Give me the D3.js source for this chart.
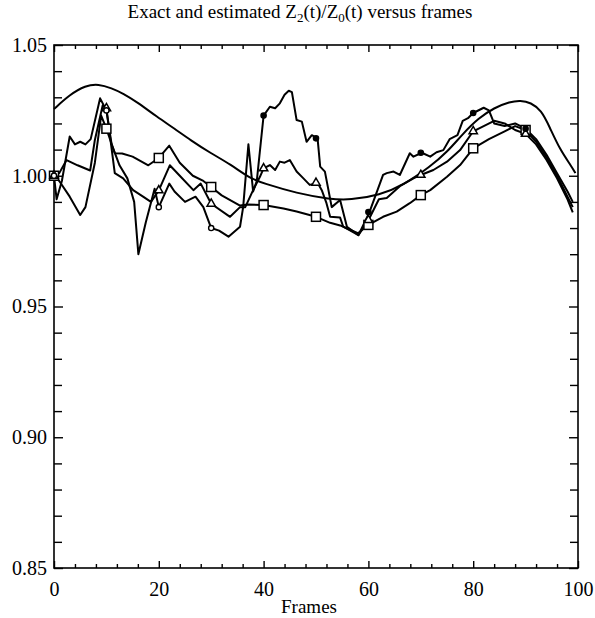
<!DOCTYPE html>
<html>
<head>
<meta charset="utf-8">
<script src="https://cdn.jsdelivr.net/npm/d3@7"></script>
<style>
  body { margin: 0; background: #fff; }
  text { font-family: "Liberation Serif", "DejaVu Serif", serif; fill: #000; }
</style>
</head>
<body>
<div id="chart"></div>
<script>
// exact curve
var exactFrames = [0, 3, 6, 8.5, 11, 13.2, 16, 19.6, 23, 26, 30, 33.6, 37.4, 40, 46.3, 52.7, 56.5, 62.2, 66.7, 71.8, 75, 78, 81, 84, 87, 89, 91, 93, 94.5, 96.6, 98.8, 99.5];
var exactValues = [1.0255, 1.031, 1.0345, 1.0351, 1.0335, 1.0315, 1.028, 1.0226, 1.018, 1.0137, 1.0085, 1.0045, 0.999, 0.9971, 0.9933, 0.991, 0.9907, 0.9926, 0.9965, 1.0035, 1.009, 1.016, 1.022, 1.026, 1.0283, 1.0288, 1.028, 1.025, 1.019, 1.0098, 1.0035, 1.001];

// estimate with circles
var circFrames = [0, 0.5, 1.5, 3, 4, 5, 6, 7, 8.8, 10, 11, 12.5, 14, 15.3, 16.1, 17.5, 19.2, 20, 22, 23, 25, 27, 28.5, 30, 31.5, 33.3, 35.5, 36.1, 37.1, 38, 38.7, 40, 41.2, 42.2, 43.1, 44, 44.8, 45.4, 46.3, 47.3, 48.2, 49.2, 50.3, 50.8, 51.7, 53, 54.6, 55.9, 58.1, 60.2, 62.8, 63.5, 64.8, 66, 67.9, 68.6, 70.2, 71.8, 73, 74.3, 75.5, 77, 78, 79, 80, 82, 83, 84, 86, 88, 90, 92, 94, 96, 98, 99];
var circValues = [1.000, 0.991, 0.998, 1.015, 1.012, 1.013, 1.012, 1.014, 1.0296, 1.025, 1.012, 1.004, 0.999, 0.990, 0.970, 0.982, 0.995, 0.988, 0.997, 0.994, 0.990, 0.992, 0.988, 0.980, 0.979, 0.9767, 0.9805, 0.988, 1.012, 0.994, 0.998, 1.023, 1.0264, 1.0258, 1.0277, 1.031, 1.0325, 1.032, 1.0213, 1.0207, 1.013, 1.0155, 1.0143, 1.0035, 1.0016, 0.988, 0.9907, 0.9805, 0.9773, 0.9861, 1.0003, 1.001, 1.0016, 1.0003, 1.0086, 1.0073, 1.0088, 1.0073, 1.009, 1.0098, 1.014, 1.0155, 1.021, 1.022, 1.024, 1.026, 1.025, 1.020, 1.019, 1.020, 1.018, 1.014, 1.008, 1.001, 0.994, 0.990];

// estimate with triangles
var triFrames = [0, 1, 2.4, 4.5, 6.9, 7.8, 9.3, 10, 11.6, 13.2, 15.1, 17, 18.5, 20, 22.1, 24, 26.6, 28, 30, 33.6, 35.5, 36.5, 38, 39.3, 40, 41.2, 42.2, 43.1, 44, 45, 46.3, 47.6, 48.8, 50.3, 51.1, 52, 52.7, 54.6, 55.2, 58.1, 60, 62, 63.5, 66, 68.6, 70, 72.4, 75, 77.5, 80, 82, 84, 86, 88, 90, 92, 94, 96, 98, 99];
var triValues = [1.000, 1.001, 1.006, 1.004, 1.002, 1.0137, 1.027, 1.0258, 1.001, 0.999, 0.9945, 0.992, 0.990, 0.9944, 1.004, 1.000, 0.9945, 0.997, 0.9893, 0.9843, 0.988, 0.988, 0.9945, 0.9996, 1.0028, 1.0041, 1.0022, 1.0054, 1.005, 1.006, 1.0016, 0.999, 0.9965, 0.9973, 0.9945, 0.9895, 0.9843, 0.984, 0.9805, 0.9773, 0.983, 0.991, 0.9915, 0.996, 0.999, 1.0003, 1.0022, 1.0054, 1.0098, 1.017, 1.019, 1.021, 1.020, 1.0175, 1.016, 1.012, 1.006, 0.999, 0.991, 0.986];

// estimate with squares
var sqFrames = [0, 1, 3, 5, 6, 7.8, 9, 10, 11.6, 13, 15, 18, 20, 22, 24, 26.5, 28.5, 30, 32, 35.5, 37, 40, 43.8, 46.3, 50, 52.7, 54.6, 58, 60, 62.8, 65.4, 67.9, 70, 71.8, 75, 77.5, 80, 83, 86, 88, 90, 92, 94, 96, 98, 99];
var sqValues = [1.000, 0.998, 0.992, 0.985, 0.988, 1.005, 1.023, 1.018, 1.0086, 1.0085, 1.0073, 1.004, 1.0068, 1.0115, 1.005, 1.000, 0.998, 0.9957, 0.9925, 0.9886, 0.989, 0.9888, 0.9875, 0.9863, 0.9843, 0.982, 0.981, 0.978, 0.9812, 0.9843, 0.9863, 0.9895, 0.9926, 0.9945, 0.9996, 1.0041, 1.0105, 1.014, 1.017, 1.019, 1.0175, 1.013, 1.007, 1.000, 0.992, 0.988];

// marker positions
var markFrames = [0, 10, 20, 30, 40, 50, 60, 70, 80, 90];
var circMarks = [1.000, 1.025, 0.988, 0.980, 1.023, 1.0143, 0.9861, 1.0088, 1.024, 1.018];
var triMarks = [1.000, 1.0258, 0.9944, 0.9893, 1.0028, 0.9973, 0.983, 1.0003, 1.017, 1.016];
var sqMarks = [1.000, 1.018, 1.0068, 0.9957, 0.9888, 0.9843, 0.9812, 0.9926, 1.0105, 1.0175];

var xLabels = [0, 20, 40, 60, 80, 100];
var yLabels = [0.85, 0.90, 0.95, 1.00, 1.05];

var width = 595, height = 618;
var margin = { top: 45, right: 17, bottom: 50, left: 54 };

var svg = d3.select("#chart")
  .append("svg")
  .attr("width", width)
  .attr("height", height)

var x = d3.scaleLinear()
  .domain([0, 100])
  .range([margin.left, width - margin.right])

var y = d3.scaleLinear()
  .domain([0.85, 1.05])
  .range([height - margin.bottom, margin.top])

// ticks on all four sides, pointing inward
var xMinor = d3.range(0, 101, 4).filter(function (d) { return d % 20 != 0 })
var yMinor = d3.range(85, 106, 1).map(function (d) { return d / 100 }).filter(function (d) { return Math.round(d * 100) % 5 != 0 })

function noLine(g) { g.select(".domain").remove() }

svg.append("g").attr("transform", "translate(0," + y(0.85) + ")")
  .call(d3.axisBottom(x).tickValues(xLabels).tickSize(-7).tickPadding(14).tickFormat(d3.format("d")))
  .call(noLine)
svg.append("g").attr("transform", "translate(0," + y(0.85) + ")")
  .call(d3.axisBottom(x).tickValues(xMinor).tickSize(-4).tickFormat(""))
  .call(noLine)
svg.append("g").attr("transform", "translate(0," + y(1.05) + ")")
  .call(d3.axisTop(x).tickValues(xLabels).tickSize(-7).tickFormat(""))
  .call(noLine)
svg.append("g").attr("transform", "translate(0," + y(1.05) + ")")
  .call(d3.axisTop(x).tickValues(xMinor).tickSize(-4).tickFormat(""))
  .call(noLine)
svg.append("g").attr("transform", "translate(" + x(0) + ",0)")
  .call(d3.axisLeft(y).tickValues(yLabels).tickSize(-9).tickPadding(7).tickFormat(d3.format(".2f")))
  .call(noLine)
svg.append("g").attr("transform", "translate(" + x(0) + ",0)")
  .call(d3.axisLeft(y).tickValues(yMinor).tickSize(-8).tickFormat(""))
  .call(noLine)
svg.append("g").attr("transform", "translate(" + x(100) + ",0)")
  .call(d3.axisRight(y).tickValues(yLabels).tickSize(-9).tickFormat(""))
  .call(noLine)
svg.append("g").attr("transform", "translate(" + x(100) + ",0)")
  .call(d3.axisRight(y).tickValues(yMinor).tickSize(-8).tickFormat(""))
  .call(noLine)

svg.selectAll(".tick line").attr("stroke", "#000").attr("stroke-width", 1.4)
svg.selectAll(".tick text")
  .style("font-family", "'Liberation Serif', serif")
  .style("font-size", "20px")
  .attr("fill", "#000")

svg.append("rect")
  .attr("x", x(0)).attr("y", y(1.05))
  .attr("width", x(100) - x(0)).attr("height", y(0.85) - y(1.05))
  .attr("fill", "none").attr("stroke", "#000").attr("stroke-width", 1.6)

// lines
var line = d3.line()
  .x(function (d) { return x(d[0]) })
  .y(function (d) { return y(d[1]) })

var series = [
  [exactFrames, exactValues],
  [circFrames, circValues],
  [triFrames, triValues],
  [sqFrames, sqValues]
]
series.forEach(function (s, i) {
  var pts = d3.zip(s[0], s[1])
  svg.append("path")
    .attr("d", line.curve(i == 0 ? d3.curveBasis : d3.curveLinear)(pts))
    .attr("fill", "none")
    .attr("stroke", "#000")
    .attr("stroke-width", 2)
    .attr("stroke-linejoin", "round")
})

// markers
svg.selectAll(".sq")
  .data(d3.zip(markFrames, sqMarks))
  .enter()
  .append("rect")
  .attr("x", function (d) { return x(d[0]) - 4.5 })
  .attr("y", function (d) { return y(d[1]) - 4.5 })
  .attr("width", 9).attr("height", 9)
  .attr("fill", "#fff").attr("stroke", "#000").attr("stroke-width", 1.5)

svg.selectAll(".tri")
  .data(d3.zip(markFrames, triMarks))
  .enter()
  .append("path")
  .attr("d", d3.symbol().type(d3.symbolTriangle).size(30))
  .attr("transform", function (d) { return "translate(" + x(d[0]) + "," + y(d[1]) + ")" })
  .attr("fill", "#fff").attr("stroke", "#000").attr("stroke-width", 1.5)

svg.selectAll(".circ")
  .data(d3.zip(markFrames, circMarks))
  .enter()
  .append("circle")
  .attr("cx", function (d) { return x(d[0]) })
  .attr("cy", function (d) { return y(d[1]) })
  .attr("r", 2.6)
  .attr("fill", function (d) { return d[0] >= 40 ? "#000" : "#fff" })
  .attr("stroke", "#000").attr("stroke-width", 1.4)

// title and axis name
var title = svg.append("text")
  .attr("x", 300).attr("y", 18)
  .attr("text-anchor", "middle")
  .style("font-size", "19px")
title.append("tspan").text("Exact and estimated Z")
title.append("tspan").attr("dy", 4).style("font-size", "13px").text("2")
title.append("tspan").attr("dy", -4).text("(t)/Z")
title.append("tspan").attr("dy", 4).style("font-size", "13px").text("0")
title.append("tspan").attr("dy", -4).text("(t) versus frames")

svg.append("text")
  .attr("x", 309).attr("y", 613)
  .attr("text-anchor", "middle")
  .style("font-size", "19px")
  .text("Frames")
</script>
</body>
</html>
